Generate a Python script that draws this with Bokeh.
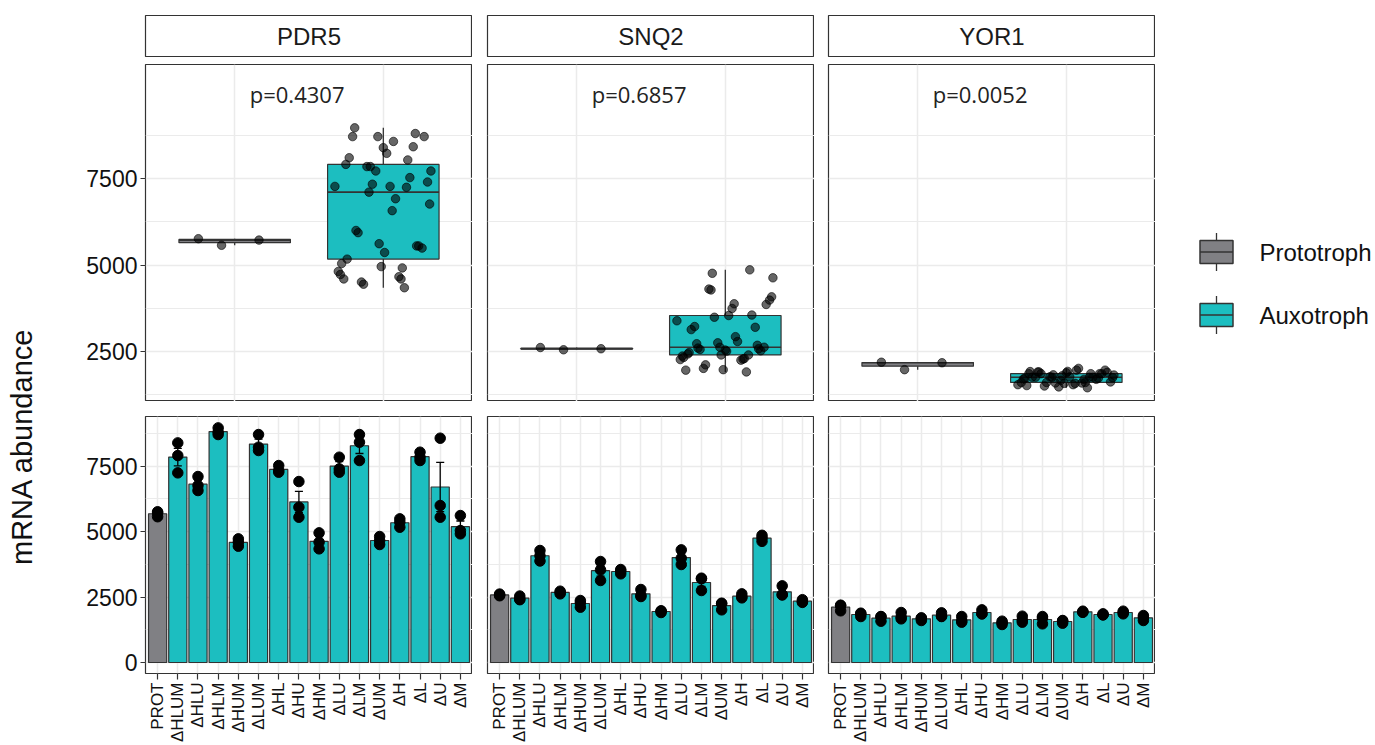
import numpy as np
from bokeh.plotting import figure
from bokeh.layouts import row, column
from bokeh.models import Range1d, FixedTicker, FactorRange
from bokeh.core.properties import value
from bokeh.embed import file_html
from bokeh.resources import INLINE

# ---------------- data ----------------
genes = ["PDR5", "SNQ2", "YOR1"]
strains = ["PROT", "ΔHLUM", "ΔHLU", "ΔHLM", "ΔHUM", "ΔLUM", "ΔHL", "ΔHU",
           "ΔHM", "ΔLU", "ΔLM", "ΔUM", "ΔH", "ΔL", "ΔU", "ΔM"]
groups = ["Prototroph", "Auxotroph"]
p_values = ["p=0.4307", "p=0.6857", "p=0.0052"]
box_ticks = [2500, 5000, 7500]
bar_ticks = [0, 2500, 5000, 7500]
y_title = "mRNA abundance"

pdr5 = [[5760, 5720, 5570], [8392, 7908, 7246], [7106, 6762, 6571], [8965, 8800, 8711],
        [4725, 4597, 4445], [8711, 8227, 8100], [7526, 7335, 7272], [6915, 5935, 5552],
        [4954, 4597, 4343], [7845, 7399, 7272], [8711, 8418, 7717], [4814, 4661, 4508],
        [5489, 5361, 5170], [8036, 7845, 7717], [8571, 5998, 5552], [5616, 5043, 4916]]
snq2 = [[2615, 2580, 2550], [2540, 2430, 2400], [4280, 4080, 3880], [2725, 2680, 2623],
        [2369, 2280, 2114], [3859, 3540, 3133], [3553, 3490, 3388], [2789, 2560, 2521],
        [1975, 1961, 1910], [4304, 3986, 3744], [3222, 3200, 2751], [2267, 2250, 2012],
        [2623, 2510, 2470], [4860, 4760, 4630], [2929, 2598, 2580], [2400, 2330, 2297]]
yor1 = [[2190, 2175, 1975], [1885, 1860, 1757], [1757, 1745, 1579], [1910, 1730, 1668],
        [1705, 1694, 1605], [1898, 1770, 1757], [1757, 1590, 1541], [2012, 1860, 1859],
        [1579, 1515, 1452], [1770, 1620, 1541], [1757, 1695, 1477], [1605, 1590, 1503],
        [1961, 1925, 1920], [1859, 1825, 1820], [1961, 1910, 1859], [1796, 1720, 1605]]
replicates = {"PDR5": pdr5, "SNQ2": snq2, "YOR1": yor1}

# ---------------- style ----------------
GREY = "#808084"
TEAL = "#1CBEC0"
EDGE = "#333333"
GRID = "#EBEBEB"
FONT = "Liberation Sans"
group_color = {groups[0]: GREY, groups[1]: TEAL}

COL_LEFT = [70, 15, 14]
FRAME_W = 327
BOX_W = 0.75
BAR_W = 0.9
CAP_W = 0.4
P_X = 1.42
P_Y = 9940


def strain_group(s):
    return groups[0] if s == "PROT" else groups[1]


def minor_between(ticks):
    step = ticks[1] - ticks[0]
    return [t - step / 2 for t in ticks] + [ticks[-1] + step / 2]


def jitter(n, width, phase):
    return [((i * 0.6180339887 + phase) % 1.0 - 0.5) * width for i in range(n)]


def new_fig(**kw):
    p = figure(output_backend="svg", toolbar_location=None, **kw)
    p.background_fill_color = "white"
    p.border_fill_color = "white"
    return p


def style_panel(p, xticks, yticks):
    p.outline_line_color = EDGE
    p.outline_line_width = 1.2
    p.xgrid.ticker = FixedTicker(ticks=xticks)
    p.ygrid.ticker = FixedTicker(ticks=yticks, minor_ticks=minor_between(yticks))
    p.xgrid.grid_line_color = GRID
    p.xgrid.grid_line_width = 1.5
    p.ygrid.grid_line_color = GRID
    p.ygrid.grid_line_width = 1.5
    p.ygrid.minor_grid_line_color = GRID
    p.ygrid.minor_grid_line_width = 1.2


def style_yaxis(p, ticks):
    ax = p.yaxis
    ax.ticker = FixedTicker(ticks=ticks)
    ax.major_label_text_font = FONT
    ax.major_label_text_font_size = "23px"
    ax.major_label_text_color = "#111111"
    ax.axis_line_color = None
    ax.major_tick_line_color = EDGE
    ax.major_tick_line_width = 1.2
    ax.major_tick_out = 5
    ax.major_tick_in = 0
    ax.minor_tick_line_color = None
    ax.major_label_standoff = 3


strip_figs, top_figs, bottom_figs = [], [], []
xs = list(range(1, len(strains) + 1))

for i, gene in enumerate(genes):
    reps = replicates[gene]
    w = COL_LEFT[i] + FRAME_W

    # ----- strip -----
    s = new_fig(width=w, height=57, x_range=Range1d(-1, 1), y_range=Range1d(-1, 1),
                x_axis_location=None, y_axis_location=None,
                min_border_left=COL_LEFT[i], min_border_right=0,
                min_border_top=15, min_border_bottom=0)
    s.grid.visible = False
    s.outline_line_color = EDGE
    s.outline_line_width = 1.2
    s.text(x=[0], y=[0], text=[gene], text_font=value(FONT), text_font_size="24px",
           text_align="center", text_baseline="middle", text_color="#1A1A1A")
    strip_figs.append(s)

    # ----- top: boxplots -----
    t = new_fig(width=w, height=344, x_range=Range1d(0.4, 2.6), y_range=Range1d(1055, 10795),
                x_axis_location=None, y_axis_location="left" if i == 0 else None,
                min_border_left=COL_LEFT[i], min_border_right=0,
                min_border_top=7, min_border_bottom=0)
    style_panel(t, [1, 2], box_ticks)
    if i == 0:
        style_yaxis(t, box_ticks)

    by_group = {g: [] for g in groups}
    for st, r in zip(strains, reps):
        by_group[strain_group(st)].extend(r)

    for k, g in enumerate(groups):
        vals = np.array(by_group[g], dtype=float)
        xk = k + 1
        q1, med, q3 = np.percentile(vals, [25, 50, 75])
        iqr = q3 - q1
        hi = vals[vals <= q3 + 1.5 * iqr].max()
        lo = vals[vals >= q1 - 1.5 * iqr].min()
        t.segment(x0=[xk, xk], y0=[q3, q1], x1=[xk, xk], y1=[hi, lo],
                  line_color=EDGE, line_width=1.3)
        t.vbar(x=[xk], width=BOX_W, bottom=[q1], top=[q3], fill_color=group_color[g],
               line_color=EDGE, line_width=1.2)
        t.segment(x0=[xk - BOX_W / 2], y0=[med], x1=[xk + BOX_W / 2], y1=[med],
                  line_color=EDGE, line_width=1.6)

    for k, g in enumerate(groups):
        vals = by_group[g]
        jx = [k + 1 + d for d in jitter(len(vals), 0.66, 0.13 + 0.37 * k)]
        t.scatter(x=jx, y=vals, size=8.5, fill_color="black", fill_alpha=0.6,
                  line_color="black", line_alpha=0.6, line_width=1)

    t.text(x=[P_X], y=[P_Y], text=[p_values[i]], text_font=value("Open Sans"),
           text_font_size="22px", text_align="center", text_baseline="middle",
           text_color="#222222")
    top_figs.append(t)

    # ----- bottom: bars -----
    b = new_fig(width=w, height=344, x_range=Range1d(0.4, len(strains) + 0.6),
                y_range=Range1d(-420, 9400),
                x_axis_location="below", y_axis_location="left" if i == 0 else None,
                min_border_left=COL_LEFT[i], min_border_right=0,
                min_border_top=15, min_border_bottom=72)
    style_panel(b, xs, bar_ticks)
    if i == 0:
        style_yaxis(b, bar_ticks)

    means = [float(np.mean(r)) for r in reps]
    ses = [float(np.std(r, ddof=1) / np.sqrt(len(r))) for r in reps]
    colors = [group_color[strain_group(st)] for st in strains]
    lows = [m - e for m, e in zip(means, ses)]
    highs = [m + e for m, e in zip(means, ses)]

    b.vbar(x=xs, top=means, bottom=0, width=BAR_W, fill_color=colors,
           line_color=EDGE, line_width=1.2)
    b.segment(x0=xs, y0=lows, x1=xs, y1=highs, line_color="black", line_width=1.3)
    b.segment(x0=[x - CAP_W / 2 for x in xs], y0=highs, x1=[x + CAP_W / 2 for x in xs],
              y1=highs, line_color="black", line_width=1.3)
    b.segment(x0=[x - CAP_W / 2 for x in xs], y0=lows, x1=[x + CAP_W / 2 for x in xs],
              y1=lows, line_color="black", line_width=1.3)
    px = [x for x, r in zip(xs, reps) for _ in r]
    py = [v for r in reps for v in r]
    b.scatter(x=px, y=py, size=10.5, color="black")

    ax = b.xaxis
    ax.ticker = FixedTicker(ticks=xs)
    ax.major_label_overrides = {x: st for x, st in zip(xs, strains)}
    ax.major_label_orientation = np.pi / 2
    ax.major_label_text_font = FONT
    ax.major_label_text_font_size = "17px"
    ax.major_label_text_color = "#111111"
    ax.axis_line_color = None
    ax.major_tick_line_color = EDGE
    ax.major_tick_line_width = 1.2
    ax.major_tick_out = 6
    ax.major_tick_in = 0
    ax.minor_tick_line_color = None
    ax.major_label_standoff = 3
    bottom_figs.append(b)

# ----- y title (as an axis label centred on its own frame) -----
yl = new_fig(width=75, height=745, x_range=Range1d(0, 1), y_range=Range1d(0, 1),
             x_axis_location=None, y_axis_location="left",
             min_border_left=50, min_border_right=0, min_border_top=147, min_border_bottom=0)
yl.grid.visible = False
yl.outline_line_color = None
ya = yl.yaxis
ya.ticker = FixedTicker(ticks=[])
ya.axis_line_color = None
ya.major_tick_line_color = None
ya.minor_tick_line_color = None
ya.axis_label = y_title
ya.axis_label_text_font = FONT
ya.axis_label_text_font_size = "29px"
ya.axis_label_text_font_style = "normal"
ya.axis_label_text_color = "#111111"
ya.axis_label_standoff = 13

# ----- legend -----
lg = new_fig(width=220, height=745, x_range=Range1d(-1, 1),
             y_range=FactorRange(factors=groups[::-1]),
             x_axis_location=None, y_axis_location="right",
             min_border_left=36, min_border_right=134, min_border_top=220, min_border_bottom=399)
lg.grid.visible = False
lg.outline_line_color = None
key_x = [0] * len(groups)
lg.scatter(x=key_x, y=groups, marker="dash", angle=np.pi / 2, size=38,
           line_color=EDGE, line_width=1.3)
lg.rect(x=key_x, y=groups, width=33, height=23, width_units="screen", height_units="screen",
        fill_color=[group_color[g] for g in groups], line_color=EDGE, line_width=1.5)
lg.scatter(x=key_x, y=groups, marker="dash", size=33, line_color=EDGE, line_width=1.5)
la = lg.yaxis
la.major_label_text_font = FONT
la.major_label_text_font_size = "24px"
la.major_label_text_color = "#111111"
la.axis_line_color = None
la.major_tick_line_color = None
la.minor_tick_line_color = None
la.major_label_standoff = 12

panels = column(row(*strip_figs), row(*top_figs), row(*bottom_figs))
layout = row(row(yl, panels), column(lg))

open("out.html", "w").write(file_html(layout, INLINE))
